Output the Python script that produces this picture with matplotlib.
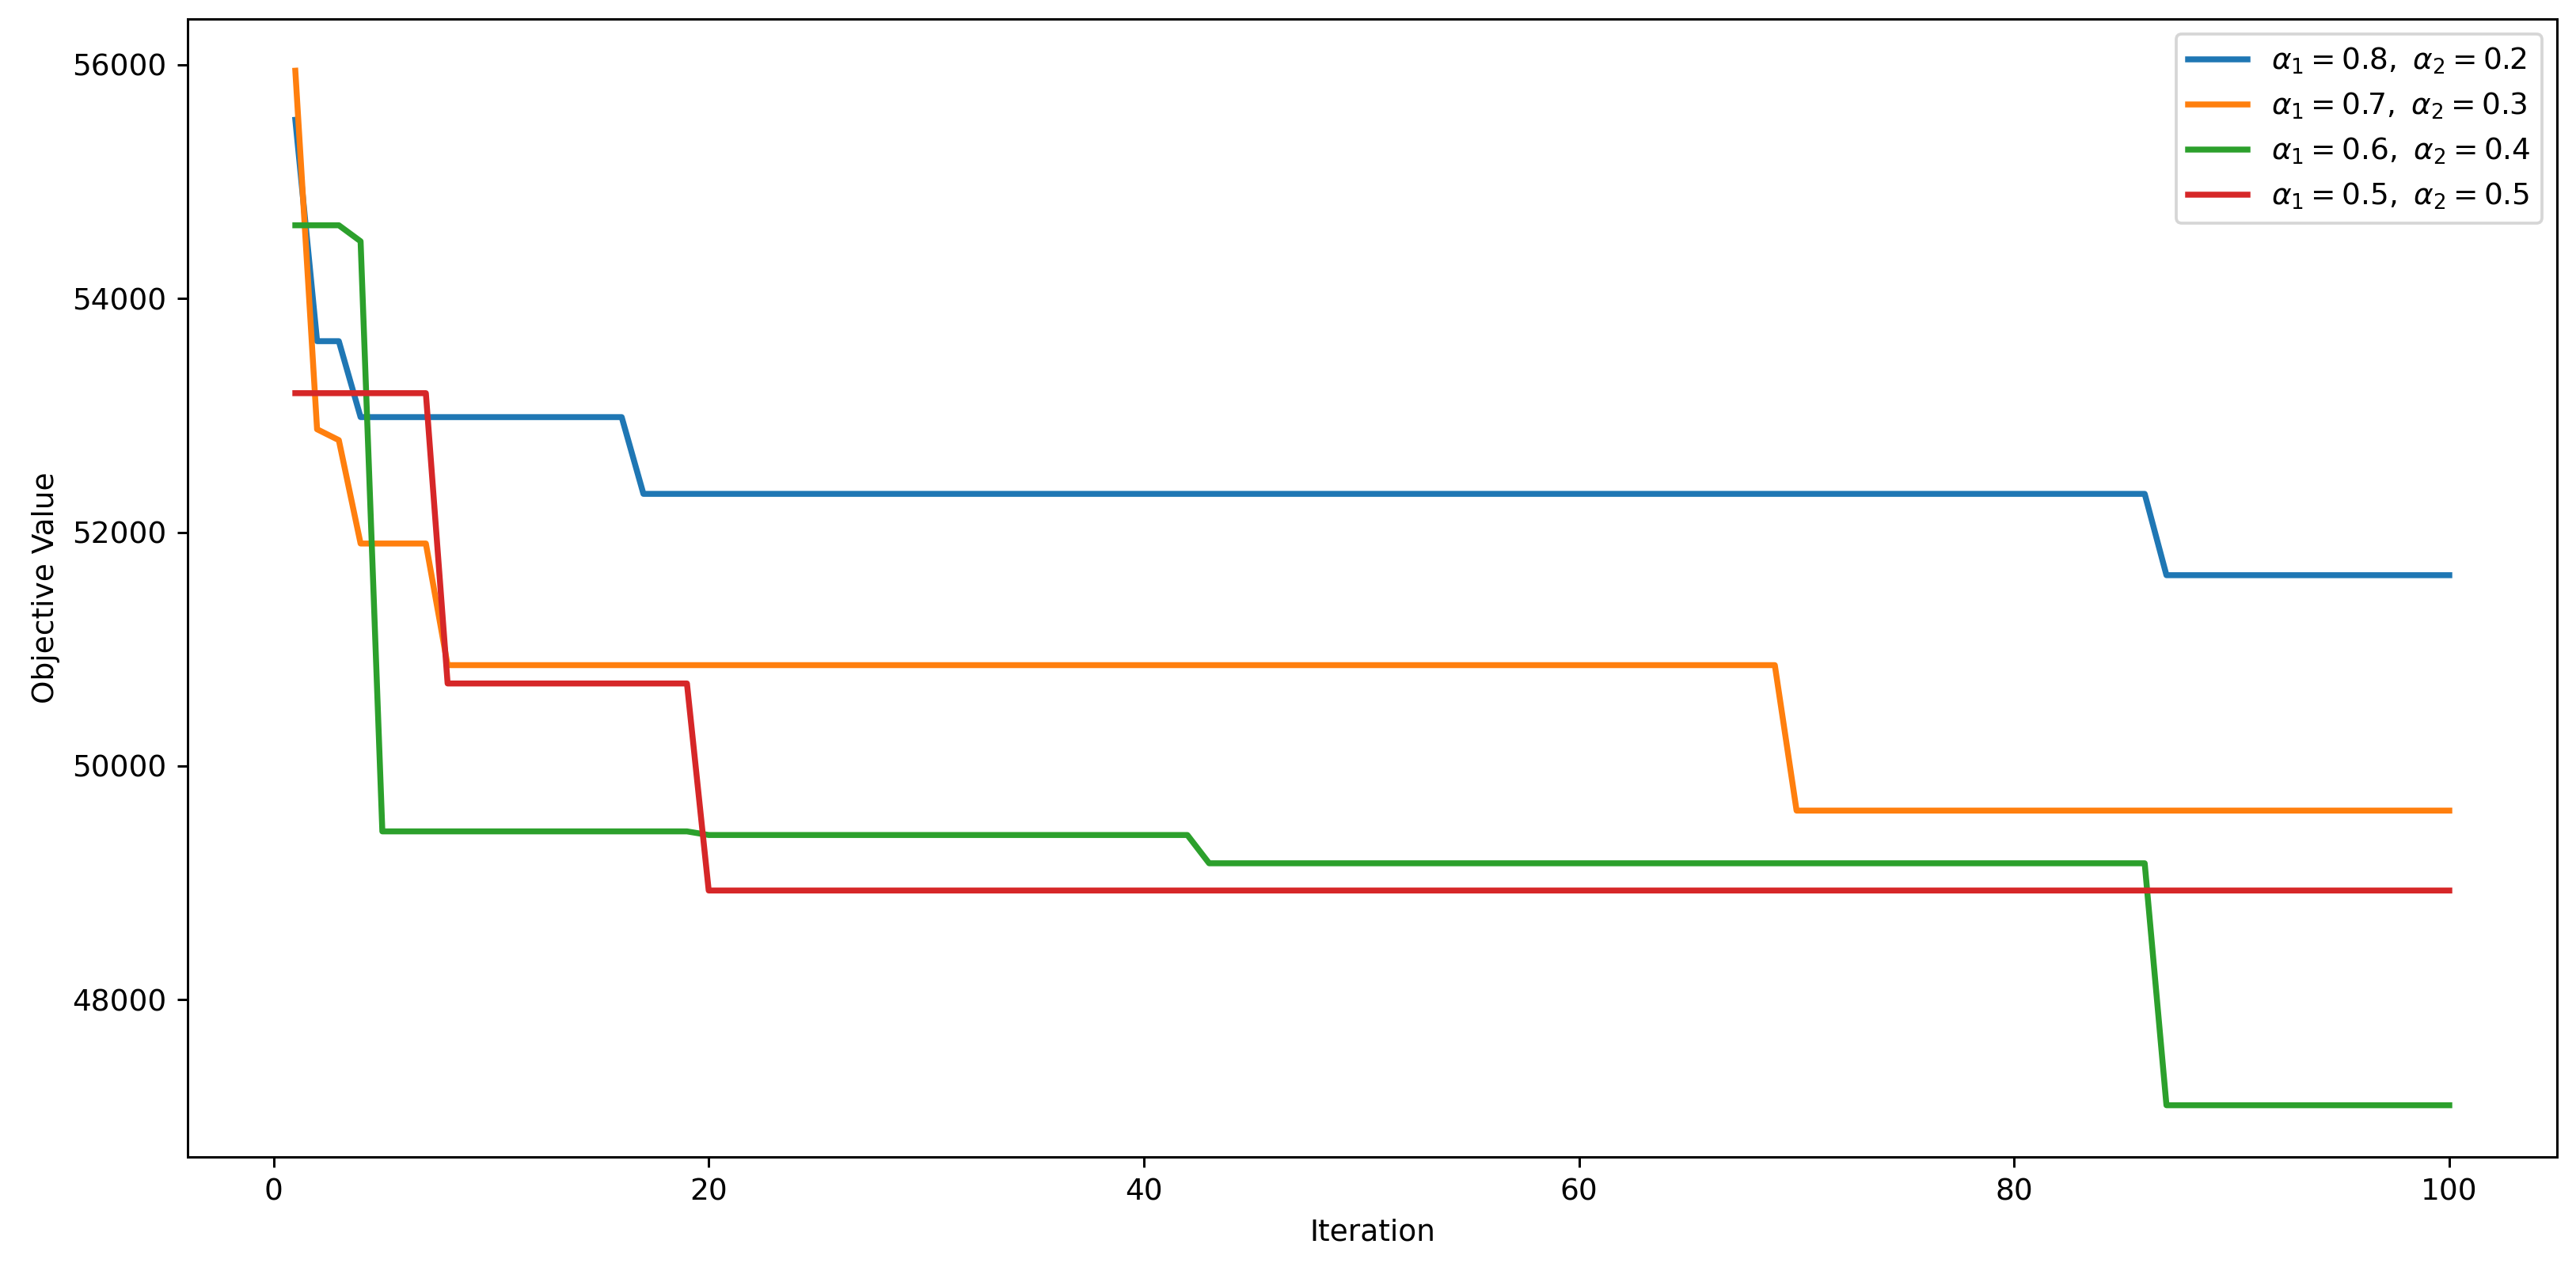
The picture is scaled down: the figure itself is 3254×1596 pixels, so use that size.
import matplotlib
matplotlib.use("Agg")
import matplotlib.pyplot as plt

iterations = list(range(1, 101))

labels = [
    r'$\alpha_1 = 0.8,\ \alpha_2 = 0.2$',
    r'$\alpha_1 = 0.7,\ \alpha_2 = 0.3$',
    r'$\alpha_1 = 0.6,\ \alpha_2 = 0.4$',
    r'$\alpha_1 = 0.5,\ \alpha_2 = 0.5$',
]

obj_a08 = [
    55530, 53635, 53635, 52985, 52985, 52985, 52985, 52985, 52985, 52985,
    52985, 52985, 52985, 52985, 52985, 52985, 52328, 52328, 52328, 52328,
    52328, 52328, 52328, 52328, 52328, 52328, 52328, 52328, 52328, 52328,
    52328, 52328, 52328, 52328, 52328, 52328, 52328, 52328, 52328, 52328,
    52328, 52328, 52328, 52328, 52328, 52328, 52328, 52328, 52328, 52328,
    52328, 52328, 52328, 52328, 52328, 52328, 52328, 52328, 52328, 52328,
    52328, 52328, 52328, 52328, 52328, 52328, 52328, 52328, 52328, 52328,
    52328, 52328, 52328, 52328, 52328, 52328, 52328, 52328, 52328, 52328,
    52328, 52328, 52328, 52328, 52328, 52328, 51632, 51632, 51632, 51632,
    51632, 51632, 51632, 51632, 51632, 51632, 51632, 51632, 51632, 51632,
]

obj_a07 = [
    55950, 52881, 52788, 51903, 51903, 51903, 51903, 50862, 50862, 50862,
    50862, 50862, 50862, 50862, 50862, 50862, 50862, 50862, 50862, 50862,
    50862, 50862, 50862, 50862, 50862, 50862, 50862, 50862, 50862, 50862,
    50862, 50862, 50862, 50862, 50862, 50862, 50862, 50862, 50862, 50862,
    50862, 50862, 50862, 50862, 50862, 50862, 50862, 50862, 50862, 50862,
    50862, 50862, 50862, 50862, 50862, 50862, 50862, 50862, 50862, 50862,
    50862, 50862, 50862, 50862, 50862, 50862, 50862, 50862, 50862, 49617,
    49617, 49617, 49617, 49617, 49617, 49617, 49617, 49617, 49617, 49617,
    49617, 49617, 49617, 49617, 49617, 49617, 49617, 49617, 49617, 49617,
    49617, 49617, 49617, 49617, 49617, 49617, 49617, 49617, 49617, 49617,
]

obj_a06 = [
    54627, 54627, 54627, 54490, 49439, 49439, 49439, 49439, 49439, 49439,
    49439, 49439, 49439, 49439, 49439, 49439, 49439, 49439, 49439, 49408,
    49408, 49408, 49408, 49408, 49408, 49408, 49408, 49408, 49408, 49408,
    49408, 49408, 49408, 49408, 49408, 49408, 49408, 49408, 49408, 49408,
    49408, 49408, 49166, 49166, 49166, 49166, 49166, 49166, 49166, 49166,
    49166, 49166, 49166, 49166, 49166, 49166, 49166, 49166, 49166, 49166,
    49166, 49166, 49166, 49166, 49166, 49166, 49166, 49166, 49166, 49166,
    49166, 49166, 49166, 49166, 49166, 49166, 49166, 49166, 49166, 49166,
    49166, 49166, 49166, 49166, 49166, 49166, 47095, 47095, 47095, 47095,
    47095, 47095, 47095, 47095, 47095, 47095, 47095, 47095, 47095, 47095,
]

obj_a05 = [
    53190, 53190, 53190, 53190, 53190, 53190, 53190, 50705, 50705, 50705,
    50705, 50705, 50705, 50705, 50705, 50705, 50705, 50705, 50705, 48933,
    48933, 48933, 48933, 48933, 48933, 48933, 48933, 48933, 48933, 48933,
    48933, 48933, 48933, 48933, 48933, 48933, 48933, 48933, 48933, 48933,
    48933, 48933, 48933, 48933, 48933, 48933, 48933, 48933, 48933, 48933,
    48933, 48933, 48933, 48933, 48933, 48933, 48933, 48933, 48933, 48933,
    48933, 48933, 48933, 48933, 48933, 48933, 48933, 48933, 48933, 48933,
    48933, 48933, 48933, 48933, 48933, 48933, 48933, 48933, 48933, 48933,
    48933, 48933, 48933, 48933, 48933, 48933, 48933, 48933, 48933, 48933,
    48933, 48933, 48933, 48933, 48933, 48933, 48933, 48933, 48933, 48933,
]

colors = ['#1f77b4', '#ff7f0e', '#2ca02c', '#d62728']
series = [obj_a08, obj_a07, obj_a06, obj_a05]

DPI = 270
W, H = 3254, 1596
fig = plt.figure(figsize=(W / DPI, H / DPI), dpi=DPI)
ax = fig.add_axes([237 / W, 1 - 1462 / H, (3230 - 237) / W, (1462 - 24) / H])

for vals, lab, col in zip(series, labels, colors):
    ax.plot(iterations, vals, label=lab, color=col, linewidth=2)

ax.set_xlabel('Iteration')
ax.set_ylabel('Objective Value')
ax.legend(loc='upper right')

fig.savefig('out.png', dpi=DPI)
